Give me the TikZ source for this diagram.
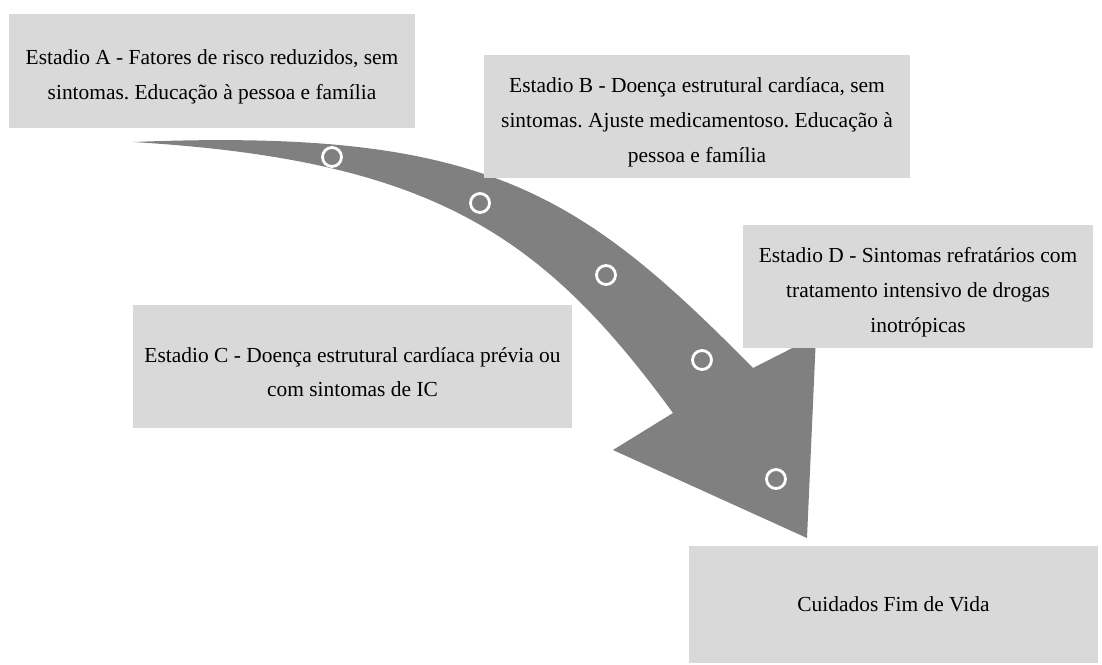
\documentclass[tikz,border=0pt]{standalone}
\usepackage{fontspec}
\setmainfont{Liberation Serif}
\definecolor{boxgray}{HTML}{D9D9D9}
\definecolor{arrowgray}{HTML}{808080}
% extra room above the first line of a wrapped label
\newcommand{\firstlinegap}{\rule{0pt}{15pt}}
\begin{document}
\frenchspacing
\begin{tikzpicture}[x=0.02cm,y=-0.02cm,
  stagebox/.style={fill=boxgray, inner sep=0pt, align=center,
    font=\fontsize{12.2}{19.8}\selectfont},
  marker/.style={draw=white, line width=1.6pt}]
\useasboundingbox (0,0) rectangle (1102,664);
% curved, tapering block arrow
\fill[arrowgray] (133,142) .. controls (483,128) and (578,190.5) .. (753,368)
  -- (816,336) -- (807,538) -- (613,450) -- (673,413)
  .. controls (543,235) and (433,160) .. (133,142) -- cycle;
% milestone rings along the arrow
\foreach \p in {(332,157),(480,203),(606,275),(702,360),(776,479)}
  \draw[marker] \p circle[radius=9.5];
% stage boxes
\node[stagebox, minimum width=8.12cm, minimum height=2.28cm] (sa) at (212,71)
  {\firstlinegap Estadio A - Fatores de risco reduzidos, sem\\ sintomas. Educação à pessoa e família};
\node[stagebox, minimum width=8.52cm, minimum height=2.46cm] (sb) at (697,116.5)
  {\firstlinegap Estadio B - Doença estrutural cardíaca, sem\\ sintomas. Ajuste medicamentoso. Educação à\\ pessoa e família};
\node[stagebox, minimum width=8.78cm, minimum height=2.46cm] (sc) at (352.5,366.5)
  {\firstlinegap Estadio C - Doença estrutural cardíaca prévia ou\\ com sintomas de IC};
\node[stagebox, minimum width=7.0cm, minimum height=2.46cm] (sd) at (918,286.5)
  {\firstlinegap Estadio D - Sintomas refratários com\\ tratamento intensivo de drogas\\ inotrópicas};
\node[stagebox, minimum width=8.18cm, minimum height=2.34cm] (se) at (893.5,604.5)
  {Cuidados Fim de Vida};
\end{tikzpicture}
\end{document}
